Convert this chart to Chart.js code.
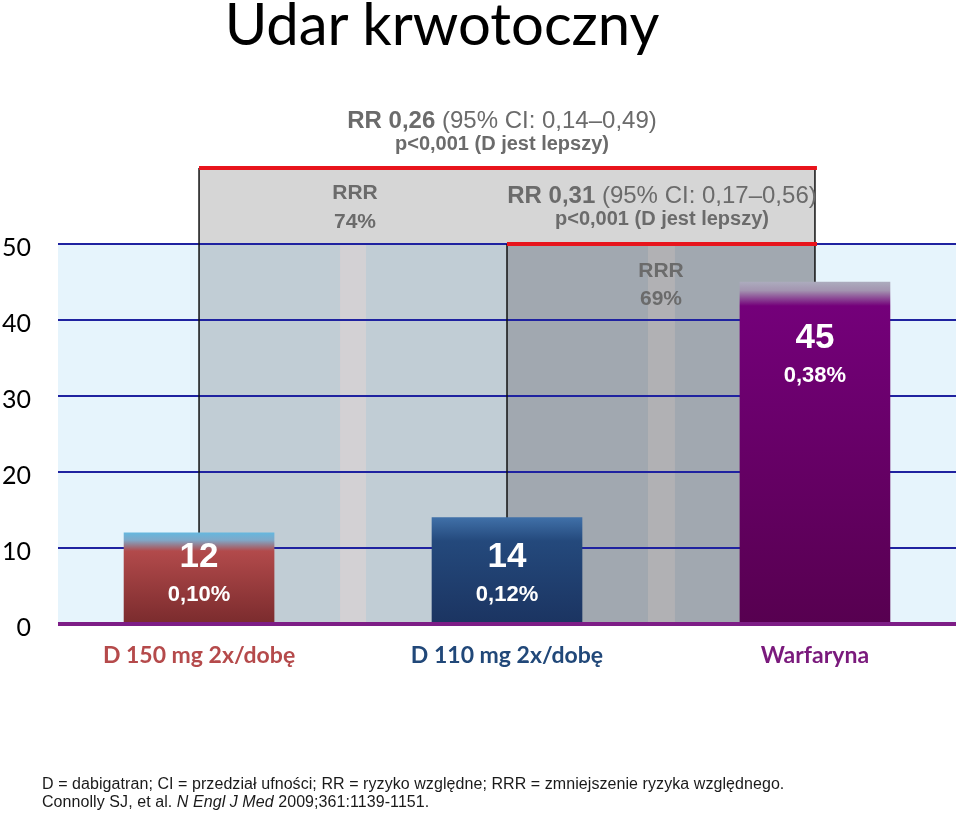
<!DOCTYPE html>
<html lang="pl">
<head>
<meta charset="utf-8">
<title>Udar krwotoczny</title>
<script src="https://cdn.jsdelivr.net/npm/chart.js@4.4.1/dist/chart.umd.min.js"></script>
<style>
  html, body { margin: 0; padding: 0; background: #fff; }
  #wrap { position: relative; width: 960px; height: 814px; overflow: hidden; }
  #tytul {
    position: absolute; left: 0; top: -12px; width: 884px; text-align: center;
    font-family: Lato, "Open Sans", sans-serif; font-size: 58px; line-height: 70px; color: #000;
  }
  #przypis {
    position: absolute; left: 42px; top: 775px;
    font-family: "Liberation Sans", Arial, sans-serif; font-size: 16px; line-height: 18px; color: #1a1a1a;
    letter-spacing: 0.07px;
  }
  canvas { position: absolute; left: 0; top: 0; }
</style>
</head>
<body>
<div id="wrap">
  <canvas id="wykres" width="960" height="814"></canvas>
  <div id="tytul">Udar krwotoczny</div>
  <div id="przypis">
    D = dabigatran; CI = przedział ufności; RR = ryzyko względne; RRR = zmniejszenie ryzyka względnego.<br>
    Connolly SJ, et al. <i>N Engl J Med</i> 2009;361:1139-1151.
  </div>
</div>
<script>
// ── Dane ──
const kategorie   = ["D 150 mg 2x/dobę", "D 110 mg 2x/dobę", "Warfaryna"];
const zdarzenia   = [12, 14, 45];
const odsetki     = ["0,10%", "0,12%", "0,38%"];
const tickiY      = [0, 10, 20, 30, 40, 50];
const rrWartosci  = ["RR 0,26", "RR 0,31"];
const rrCI        = [" (95% CI: 0,14–0,49)", " (95% CI: 0,17–0,56)"];
const rrP         = ["p<0,001 (D jest lepszy)", "p<0,001 (D jest lepszy)"];
const rrrWartosci = ["74%", "69%"];

// ── Style ──
const koloryEtykiet = ["#b54a4b", "#214879", "#7a1a7c"];
const gradienty = [
  [[0, "#66b7de"], [0.08, "#7fa8c8"], [0.2, "#b24a4b"], [1, "#7a2b2d"]],
  [[0, "#4070a8"], [0.22, "#24497c"], [1, "#1b3461"]],
  [[0, "#acabbd"], [0.025, "#a394b0"], [0.07, "#74007a"], [1, "#570050"]]
];
const SZARY_TXT = "#6b6b6b";
const ARIAL = '"Liberation Sans", Arial, sans-serif';

function wypelnienie(ctx) {
  const chart = ctx.chart;
  const i = ctx.dataIndex;
  if (!chart.chartArea || ctx.type !== "data") return gradienty[i][1][1];
  const y = chart.scales.y;
  const g = chart.ctx.createLinearGradient(0, y.getPixelForValue(zdarzenia[i]), 0, y.getPixelForValue(0));
  gradienty[i].forEach(([p, c]) => g.addColorStop(p, c));
  return g;
}

function tekstMieszany(c, cx, y, pogrubiony, zwykly, rozmiar) {
  c.font = `bold ${rozmiar}px ${ARIAL}`;
  const w1 = c.measureText(pogrubiony).width;
  c.font = `${rozmiar}px ${ARIAL}`;
  const w2 = c.measureText(zwykly).width;
  const x0 = cx - (w1 + w2) / 2;
  c.textAlign = "left";
  c.font = `bold ${rozmiar}px ${ARIAL}`;
  c.fillText(pogrubiony, x0, y);
  c.font = `${rozmiar}px ${ARIAL}`;
  c.fillText(zwykly, x0 + w1, y);
}

// tła, ramki porównań i opisy
const porownania = {
  id: "porownania",
  beforeDraw(chart) {
    const c = chart.ctx, { left, right } = chart.chartArea;
    const x = chart.scales.x, y = chart.scales.y;
    const y0 = y.getPixelForValue(0), y50 = y.getPixelForValue(50), yTop = y.getPixelForValue(60);
    const xa = x.getPixelForValue(0), xb = x.getPixelForValue(1), xc = x.getPixelForValue(2);
    c.save();
    c.fillStyle = "#e6f4fc";
    c.fillRect(left, y50, right - left, y0 - y50);
    // duża ramka: D 150 vs warfaryna
    c.fillStyle = "#d6d6d6";
    c.fillRect(xa, yTop, xc - xa, y50 - yTop);
    c.fillStyle = "#c1cdd5";
    c.fillRect(xa, y50, xc - xa, y0 - y50);
    c.fillStyle = "#d3d1d4";
    const s1 = x.getPixelForValue(0.5);
    c.fillRect(s1 - 13, y50, 26, y0 - y50);
    // mniejsza ramka: D 110 vs warfaryna
    c.fillStyle = "#a1a8b0";
    c.fillRect(xb, y50, xc - xb, y0 - y50);
    c.fillStyle = "#b1b1b4";
    const s2 = x.getPixelForValue(1.5);
    c.fillRect(s2 - 13, y50, 27, y0 - y50);
    c.restore();
  },
  beforeDatasetsDraw(chart) {
    const c = chart.ctx;
    const x = chart.scales.x, y = chart.scales.y;
    const y0 = y.getPixelForValue(0), y50 = y.getPixelForValue(50), yTop = y.getPixelForValue(60);
    const xa = x.getPixelForValue(0), xb = x.getPixelForValue(1), xc = x.getPixelForValue(2);
    c.save();
    c.strokeStyle = "#111";
    c.lineWidth = 1.5;
    [[xa, yTop], [xb, y50], [xc, yTop]].forEach(([px, py]) => {
      c.beginPath(); c.moveTo(px, py); c.lineTo(px, y0); c.stroke();
    });
    c.strokeStyle = "#e8141c";
    c.lineWidth = 4;
    c.beginPath(); c.moveTo(xa, yTop); c.lineTo(xc + 2, yTop); c.stroke();
    c.beginPath(); c.moveTo(xb, y50); c.lineTo(xc + 2, y50); c.stroke();
    c.restore();
  },
  afterDatasetsDraw(chart) {
    const c = chart.ctx, { left, right } = chart.chartArea;
    const x = chart.scales.x, y = chart.scales.y;
    const y0 = y.getPixelForValue(0), y50 = y.getPixelForValue(50), yTop = y.getPixelForValue(60);
    const xa = x.getPixelForValue(0), xb = x.getPixelForValue(1), xc = x.getPixelForValue(2);
    c.save();
    // linia bazowa
    c.strokeStyle = "#7d1d86";
    c.lineWidth = 4;
    c.beginPath(); c.moveTo(left, y0); c.lineTo(right, y0); c.stroke();

    c.textBaseline = "middle";
    c.fillStyle = SZARY_TXT;
    // RR nad dużą ramką
    const cx1 = (xa + xc) / 2 - 5;
    tekstMieszany(c, cx1, yTop - 47, rrWartosci[0], rrCI[0], 24);
    c.textAlign = "center";
    c.font = `bold 20px ${ARIAL}`;
    c.fillText(rrP[0], cx1, yTop - 24);
    // RR w nagłówku mniejszej ramki
    const cx2 = (xb + xc) / 2 + 1;
    tekstMieszany(c, cx2, yTop + 28, rrWartosci[1], rrCI[1], 24);
    c.textAlign = "center";
    c.font = `bold 20px ${ARIAL}`;
    c.fillText(rrP[1], cx2, yTop + 51);
    // RRR
    c.font = `bold 21px ${ARIAL}`;
    const r1 = x.getPixelForValue(0.5) + 2;
    c.fillText("RRR", r1, yTop + 25);
    c.fillText(rrrWartosci[0], r1, yTop + 54);
    const r2 = x.getPixelForValue(1.5);
    c.fillText("RRR", r2, y50 + 27);
    c.fillText(rrrWartosci[1], r2, y50 + 55);

    // liczby zdarzeń w słupkach
    c.fillStyle = "#fff";
    chart.getDatasetMeta(0).data.forEach((bar, i) => {
      const ny = Math.min(bar.base - 66, bar.y + 56);
      c.font = `bold 35px ${ARIAL}`;
      c.fillText(String(zdarzenia[i]), bar.x, ny);
      c.font = `bold 22px ${ARIAL}`;
      c.fillText(odsetki[i], bar.x, ny + 38);
    });
    c.restore();
  }
};

new Chart(document.getElementById("wykres"), {
  type: "bar",
  data: {
    datasets: [{
      data: kategorie.map((k, i) => ({ x: i, y: zdarzenia[i] })),
      backgroundColor: wypelnienie,
      borderWidth: 0,
      barThickness: 150
    }]
  },
  options: {
    responsive: false,
    animation: false,
    layout: { padding: { top: 168, right: 4, bottom: 140, left: 0 } },
    plugins: { legend: { display: false }, tooltip: { enabled: false } },
    scales: {
      x: {
        type: "linear",
        offset: false,
        min: -0.458, max: 2.458,
        afterBuildTicks: s => { s.ticks = kategorie.map((k, i) => ({ value: i })); },
        afterFit: s => { s.height = 50; },
        grid: { display: false, drawTicks: false },
        border: { display: false },
        ticks: {
          padding: 18,
          autoSkip: false,
          maxRotation: 0,
          callback: v => kategorie[v],
          color: ctx => koloryEtykiet[ctx.index],
          font: { family: "Lato, 'Open Sans', sans-serif", size: 23, weight: "bold" }
        }
      },
      y: {
        min: 0, max: 60,
        afterBuildTicks: s => { s.ticks = tickiY.map(v => ({ value: v })); },
        afterFit: s => { s.width = 58; },
        border: { display: false },
        grid: {
          drawTicks: false,
          color: "#1f22a0",
          lineWidth: 2
        },
        ticks: {
          padding: 27,
          labelOffset: 4,
          color: "#000",
          font: { family: "Lato, 'Open Sans', sans-serif", size: 25 }
        }
      }
    }
  },
  plugins: [porownania]
});
</script>
</body>
</html>
